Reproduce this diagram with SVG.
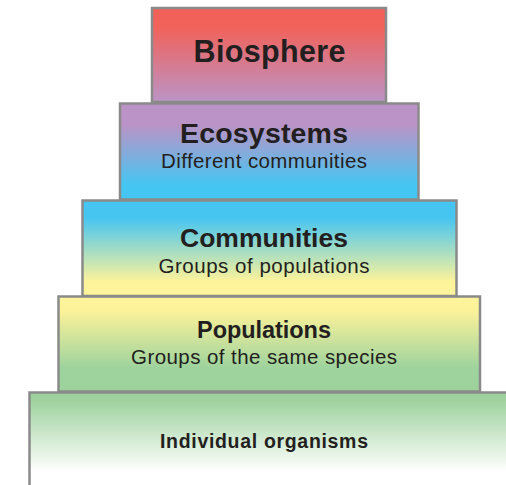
<svg xmlns="http://www.w3.org/2000/svg" width="506" height="485" viewBox="0 0 506 485">
<defs>
<linearGradient id="g1" x1="0" y1="0" x2="0" y2="1">
<stop offset="0" stop-color="#f15f58"/><stop offset="0.22" stop-color="#f0635c"/><stop offset="1" stop-color="#bb94c7"/>
</linearGradient>
<linearGradient id="g2" x1="0" y1="0" x2="0" y2="1">
<stop offset="0" stop-color="#bc93c6"/><stop offset="0.22" stop-color="#bb93c6"/><stop offset="0.85" stop-color="#45c6f2"/><stop offset="1" stop-color="#44c6f3"/>
</linearGradient>
<linearGradient id="g3" x1="0" y1="0" x2="0" y2="1">
<stop offset="0" stop-color="#45c5f1"/><stop offset="0.18" stop-color="#46c5f1"/><stop offset="0.85" stop-color="#fdf39a"/><stop offset="1" stop-color="#fef49b"/>
</linearGradient>
<linearGradient id="g4" x1="0" y1="0" x2="0" y2="1">
<stop offset="0" stop-color="#fef49b"/><stop offset="0.15" stop-color="#fcf29a"/><stop offset="0.75" stop-color="#9ed39d"/><stop offset="1" stop-color="#9dd29c"/>
</linearGradient>
<linearGradient id="g5" gradientUnits="userSpaceOnUse" x1="0" y1="392" x2="0" y2="472">
<stop offset="0" stop-color="#9dd29c"/><stop offset="0.1" stop-color="#9ed29d"/><stop offset="1" stop-color="#ffffff"/>
</linearGradient>
</defs>
<style>
.box{stroke:#8a8a8a;stroke-width:2.5}
.t{font-family:"Liberation Sans",Arial,sans-serif;font-weight:bold;fill:#231f20}
.s{font-family:"Liberation Sans",Arial,sans-serif;fill:#231f20}
</style>
<rect width="506" height="485" fill="#ffffff"/>
<g id="individual">
<rect class="box" x="29.5" y="392.5" width="500" height="120" fill="url(#g5)"/>
<text class="t" x="160" y="448" font-size="19.5" textLength="208">Individual organisms</text>
</g>
<g id="populations">
<rect class="box" x="58.5" y="296.5" width="421.5" height="95" fill="url(#g4)"/>
<text class="t" x="197" y="338" font-size="23.5" textLength="134">Populations</text>
<text class="s" x="131" y="364" font-size="20.5" textLength="266">Groups of the same species</text>
</g>
<g id="communities">
<rect class="box" x="82.5" y="200.5" width="374" height="95.5" fill="url(#g3)"/>
<text class="t" x="180" y="247" font-size="26.5" textLength="168">Communities</text>
<text class="s" x="158.5" y="273" font-size="20.5" textLength="211">Groups of populations</text>
</g>
<g id="ecosystems">
<rect class="box" x="120" y="103.5" width="298.5" height="96" fill="url(#g2)"/>
<text class="t" x="180" y="143" font-size="28.5" textLength="168">Ecosystems</text>
<text class="s" x="161" y="168" font-size="20.5" textLength="206">Different communities</text>
</g>
<g id="biosphere">
<rect class="box" x="152" y="8" width="234" height="94" fill="url(#g1)"/>
<text class="t" x="193.5" y="62" font-size="30.5" textLength="152">Biosphere</text>
</g>
<g id="connectors"></g>
</svg>
